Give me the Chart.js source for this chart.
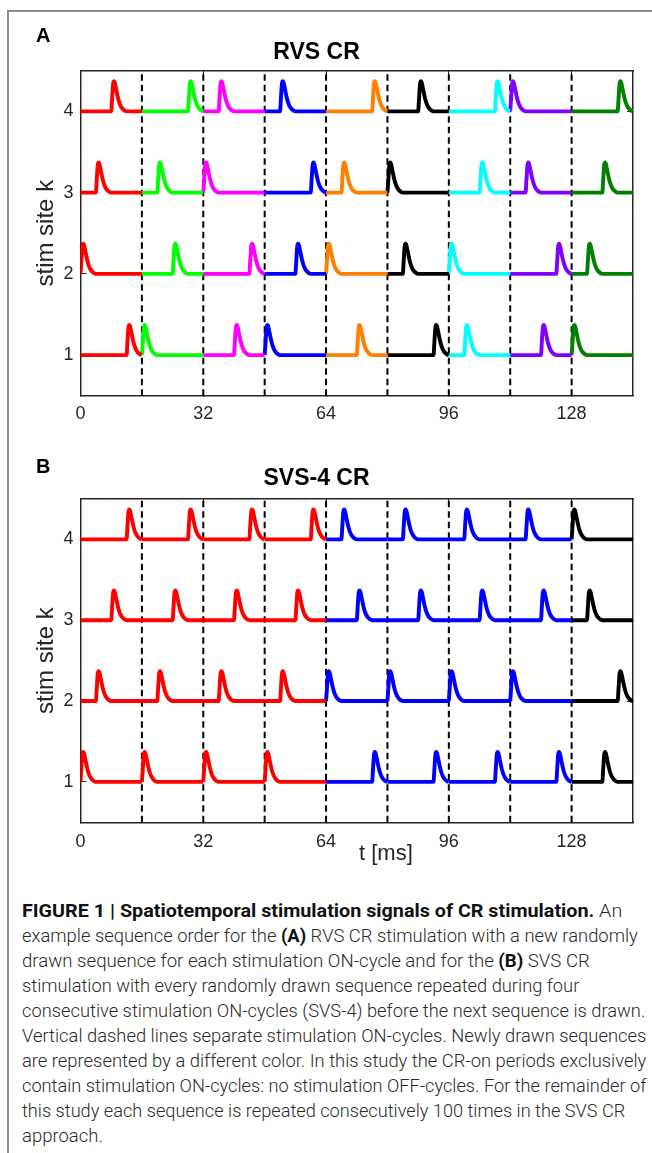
<!DOCTYPE html>
<html><head><meta charset="utf-8">
<script src="https://cdn.jsdelivr.net/npm/chart.js@4.4.1/dist/chart.umd.min.js"></script>
<style>
html,body{margin:0;padding:0;background:#fff;}
body{width:652px;height:1153px;position:relative;overflow:hidden;font-family:"Liberation Sans",Arial,Helvetica,sans-serif;}
.frame{position:absolute;left:7px;top:10px;width:700px;height:1200px;border:2px solid #8c8c8c;box-sizing:border-box;}
canvas{position:absolute;left:0;}
.t{position:absolute;white-space:nowrap;line-height:1.2;}
.cap{position:absolute;left:21.7px;white-space:nowrap;font-family:Roboto,"Liberation Sans",sans-serif;font-weight:300;font-size:17.5px;line-height:25px;height:25px;color:#2a2a2a;transform-origin:0 0;}
.cap b{font-weight:700;color:#111;}
</style></head>
<body>
<div class="frame"></div>
<canvas id="chartA" width="652" height="440" style="top:0px"></canvas>
<canvas id="chartB" width="652" height="440" style="top:440px"></canvas>
<div class="t" style="left:36px;top:22.7px;font-size:20px;font-weight:bold;color:#000;">A</div>
<div class="t" style="left:36px;top:454.2px;font-size:20px;font-weight:bold;color:#000;">B</div>
<div class="t" style="left:359px;top:840.2px;font-size:22px;color:#262626;">t [ms]</div>
<div id="caption"></div>
<script>
// ---------- data ----------
const xTickLabels = [0, 32, 64, 96, 128];
const yTickLabels = [1, 2, 3, 4];
const xMin = 0, xMax = 144, yMin = 0.5, yMax = 4.5;
const cycleStarts = [0, 16, 32, 48, 64, 80, 96, 112, 128];
// single stimulus pulse (time after onset [ms], height)
const pulseT = [0, 0.25, 0.5, 0.75, 1.0, 1.3, 1.7, 2.1, 2.5, 3.0, 3.5, 4.0];
const pulseA = [0, 0.17, 0.34, 0.37, 0.34, 0.27, 0.18, 0.11, 0.065, 0.03, 0.01, 0];

// panel A: RVS CR, one colour per ON-cycle, onset offset [ms] within each cycle
const rvsColors = ['#ff0000', '#00ff00', '#ff00ff', '#0000ff', '#ff7f00', '#000000', '#00ffff', '#7f00ff', '#007f00'];
const rvsSite1 = [12, 0, 8, 0, 8, 12, 4, 8, 0];
const rvsSite2 = [0, 8, 12, 8, 0, 4, 0, 12, 4];
const rvsSite3 = [4, 4, 0, 12, 4, 0, 8, 4, 8];
const rvsSite4 = [8, 12, 4, 4, 12, 8, 12, 0, 12];

// panel B: SVS-4 CR
const svsColors = ['#ff0000', '#ff0000', '#ff0000', '#ff0000', '#0000ff', '#0000ff', '#0000ff', '#0000ff', '#000000'];
const svsSite1 = [0, 0, 0, 0, 12, 12, 12, 12, 8];
const svsSite2 = [4, 4, 4, 4, 0, 0, 0, 0, 12];
const svsSite3 = [8, 8, 8, 8, 8, 8, 8, 8, 4];
const svsSite4 = [12, 12, 12, 12, 4, 4, 4, 4, 0];

const FONT = "'Liberation Sans', Arial, Helvetica, sans-serif";
const AX = '#262626';

function makeDatasets(colors, onsets) {
  const ds = [];
  cycleStarts.slice(1).forEach(b => ds.push({
    data: [{x: b, y: yMin}, {x: b, y: yMax}],
    borderColor: '#000', borderWidth: 2, borderDash: [6.5, 4], pointRadius: 0,
    tension: 0, order: 2, xAxisID: 'x', yAxisID: 'y'
  }));
  onsets.forEach((siteOn, si) => {
    const site = yTickLabels[si];
    siteOn.forEach((off, c) => {
      const start = cycleStarts[c];
      const end = c + 1 < cycleStarts.length ? cycleStarts[c + 1] : xMax;
      const on = start + off;
      const pts = [];
      if (on > start) pts.push({x: start, y: site});
      for (let i = 0; i < pulseT.length; i++) {
        const x = on + pulseT[i];
        if (x > end + 1e-9) break;
        pts.push({x: x, y: site + pulseA[i]});
      }
      if (pts[pts.length - 1].x < end) pts.push({x: end, y: site});
      ds.push({
        data: pts, borderColor: colors[c], borderWidth: 3.9, pointRadius: 0,
        cubicInterpolationMode: 'monotone', borderJoinStyle: 'round',
        order: 1, xAxisID: 'x', yAxisID: 'y'
      });
    });
  });
  return ds;
}

function setXTicks(s) { s.ticks = xTickLabels.map(v => ({value: v})); }
function setYTicks(s) { s.ticks = yTickLabels.map(v => ({value: v})); }

function makeChart(id, title, datasets, g) {
  return new Chart(document.getElementById(id), {
    type: 'line',
    data: {datasets: datasets},
    options: {
      responsive: false, animation: false, devicePixelRatio: 1,
      layout: {padding: {left: 0, right: 19, top: 0, bottom: 0}},
      plugins: {
        legend: {display: false}, tooltip: {enabled: false},
        title: {display: true, text: title, color: '#000',
          font: {family: FONT, size: 23, weight: 'bold'},
          padding: {top: g.titleTop, bottom: g.titleBottom}}
      },
      scales: {
        x: {type: 'linear', position: 'bottom', min: xMin, max: xMax,
          afterBuildTicks: setXTicks,
          afterFit: s => { s.height = g.xHeight; },
          ticks: {color: AX, font: {family: FONT, size: 18}, padding: g.xTickPad, maxRotation: 0, autoSkip: false},
          grid: {drawOnChartArea: false, drawTicks: true, tickLength: -6, color: AX, lineWidth: 1},
          border: {display: true, color: AX, width: 1.5}},
        x2: {type: 'linear', position: 'top', min: xMin, max: xMax,
          afterBuildTicks: setXTicks,
          afterFit: s => { s.height = 0; },
          ticks: {display: false},
          grid: {drawOnChartArea: false, drawTicks: true, tickLength: -6, color: AX, lineWidth: 1},
          border: {display: true, color: AX, width: 1.5}},
        y: {type: 'linear', position: 'left', min: yMin, max: yMax,
          afterBuildTicks: setYTicks,
          afterFit: s => { s.width = 80.5; },
          ticks: {color: AX, font: {family: FONT, size: 18}, padding: 13},
          grid: {drawOnChartArea: false, drawTicks: true, tickLength: -6, color: AX, lineWidth: 1},
          border: {display: true, color: AX, width: 1.5},
          title: {display: true, text: 'stim site k', color: AX,
            font: {family: FONT, size: 24}, padding: {top: 31.5, bottom: 0}}},
        y2: {type: 'linear', position: 'right', min: yMin, max: yMax,
          afterBuildTicks: setYTicks,
          afterFit: s => { s.width = 0; },
          ticks: {display: false},
          grid: {drawOnChartArea: false, drawTicks: true, tickLength: -6, color: AX, lineWidth: 1},
          border: {display: true, color: AX, width: 1.5}}
      }
    }
  });
}

makeChart('chartA', 'RVS CR', makeDatasets(rvsColors, [rvsSite1, rvsSite2, rvsSite3, rvsSite4]),
  {titleTop: 38.7, titleBottom: 4.4, xHeight: 44.3, xTickPad: 14.0});
makeChart('chartB', 'SVS-4 CR', makeDatasets(svsColors, [svsSite1, svsSite2, svsSite3, svsSite4]),
  {titleTop: 24.5, titleBottom: 6.9, xHeight: 57.7, xTickPad: 14.6});

// ---------- caption ----------
const captionLines = [
  '<b>FIGURE 1 | Spatiotemporal stimulation signals of CR stimulation.</b> An',
  'example sequence order for the <b>(A)</b> RVS CR stimulation with a new randomly',
  'drawn sequence for each stimulation ON-cycle and for the <b>(B)</b> SVS CR',
  'stimulation with every randomly drawn sequence repeated during four',
  'consecutive stimulation ON-cycles (SVS-4) before the next sequence is drawn.',
  'Vertical dashed lines separate stimulation ON-cycles. Newly drawn sequences',
  'are represented by a different color. In this study the CR-on periods exclusively',
  'contain stimulation ON-cycles: no stimulation OFF-cycles. For the remainder of',
  'this study each sequence is repeated consecutively 100 times in the SVS CR',
  'approach.'
];
const captionRight = [622, 637.5, 589.6, 579, 645, 646, 646, 646, 625, null];
const cap = document.getElementById('caption');
const els = captionLines.map((h, i) => {
  const d = document.createElement('div');
  d.className = 'cap';
  d.style.top = (898.8 + 25 * i) + 'px';
  d.innerHTML = h;
  cap.appendChild(d);
  return d;
});
function fitCaption() {
  const scales = [];
  els.forEach((d, i) => {
    d.style.transform = 'none';
    const w = d.getBoundingClientRect().width;
    if (captionRight[i] !== null) scales[i] = (captionRight[i] - 21.7) / w;
  });
  const valid = scales.filter(v => v);
  const mean = valid.reduce((a, b) => a + b, 0) / valid.length;
  els.forEach((d, i) => {
    const s = scales[i] || mean;
    d.style.transform = 'scaleX(' + s.toFixed(4) + ')';
  });
}
fitCaption();
if (document.fonts && document.fonts.ready) document.fonts.ready.then(fitCaption);
</script>
</body></html>
